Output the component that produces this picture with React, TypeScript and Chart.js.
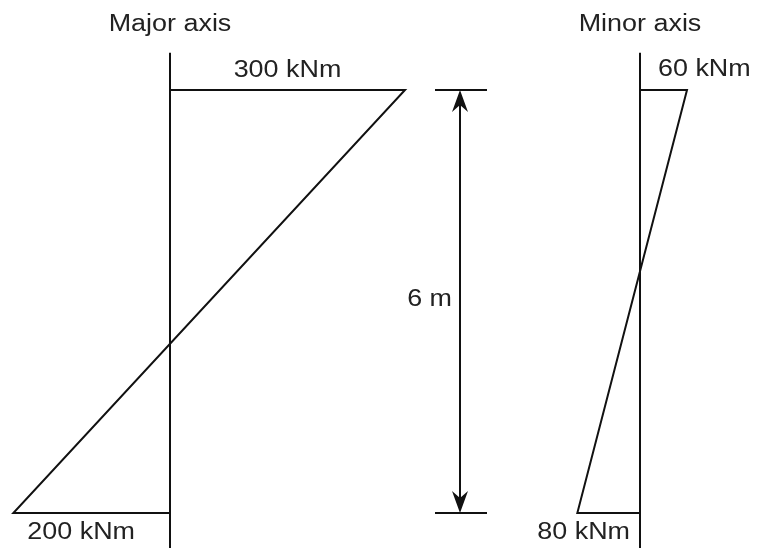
import { useEffect, useRef } from "react";
import { Chart, registerables } from "chart.js";

Chart.register(...registerables);

// ---- data ----
const LENGTH_M = 6;
const POSITIONS = [0, LENGTH_M]; // top end, bottom end of member (m)
const MAJOR_MOMENTS = [300, -200]; // kNm at top / bottom
const MINOR_MOMENTS = [60, -80];
const MAJOR_LABELS = ["300 kNm", "200 kNm"];
const MINOR_LABELS = ["60 kNm", "80 kNm"];
const TITLES = ["Major axis", "Minor axis"];
const DIM_LABEL = "6 m";

// ---- layout ----
const W = 757;
const H = 548;
const PX_PER_KNM = 0.7833;
const PX_PER_M = 70.5;
const TOP_PX = 90;
const MAJOR_BASE_PX = 170;
const MINOR_BASE_PX = 640;
const DIM_PX = 460;
const BASE_EXT_TOP = 0.53; // m above member top

const Y_MIN = -TOP_PX / PX_PER_M;
const Y_MAX = (H - TOP_PX) / PX_PER_M;

const FONT = '23px "Liberation Sans", Arial, sans-serif';
const SX = 1.17;

function diagram(m: number[]) {
  return [
    { x: 0, y: POSITIONS[0] },
    { x: m[0], y: POSITIONS[0] },
    { x: m[1], y: POSITIONS[1] },
    { x: 0, y: POSITIONS[1] },
  ];
}
function baseline() {
  return [
    { x: 0, y: POSITIONS[0] - BASE_EXT_TOP },
    { x: 0, y: Y_MAX + 1 },
  ];
}

const annotations = {
  id: "annotations",
  afterDatasetsDraw(chart: any) {
    const ctx = chart.ctx as CanvasRenderingContext2D;
    const xa = chart.scales.xMajor;
    const xb = chart.scales.xMinor;
    const y = chart.scales.y;
    const yTop = y.getPixelForValue(POSITIONS[0]);
    const yBot = y.getPixelForValue(POSITIONS[1]);
    const yMid = y.getPixelForValue(LENGTH_M / 2);

    const text = (s: string, x: number, yy: number, align: "left" | "right" | "center") => {
      ctx.save();
      ctx.font = FONT;
      ctx.fillStyle = "#222";
      ctx.textBaseline = "alphabetic";
      const w = ctx.measureText(s).width * SX;
      let left = x;
      if (align === "center") left = x - w / 2;
      if (align === "right") left = x - w;
      ctx.translate(left, yy);
      ctx.scale(SX, 1);
      ctx.fillText(s, 0, 0);
      ctx.restore();
    };

    const a0 = xa.getPixelForValue(0);
    const b0 = xb.getPixelForValue(0);
    text(TITLES[0], a0, 31, "center");
    text(TITLES[1], b0, 31, "center");
    text(MAJOR_LABELS[0], xa.getPixelForValue(MAJOR_MOMENTS[0] / 2), yTop - 13, "center");
    text(MAJOR_LABELS[1], xa.getPixelForValue(MAJOR_MOMENTS[1]) + 14, yBot + 26, "left");
    text(MINOR_LABELS[0], b0 + 18, yTop - 14, "left");
    text(MINOR_LABELS[1], b0 - 10, yBot + 26, "right");
    text(DIM_LABEL, DIM_PX - 8, yMid + 4, "right");

    // dimension line
    ctx.save();
    ctx.strokeStyle = "#111";
    ctx.fillStyle = "#111";
    ctx.lineWidth = 2;
    ctx.beginPath();
    ctx.moveTo(DIM_PX, yTop + 4);
    ctx.lineTo(DIM_PX, yBot - 4);
    ctx.moveTo(DIM_PX - 25, yTop);
    ctx.lineTo(DIM_PX + 27, yTop);
    ctx.moveTo(DIM_PX - 25, yBot);
    ctx.lineTo(DIM_PX + 27, yBot);
    ctx.stroke();
    const arrow = (tipY: number, dir: number) => {
      ctx.beginPath();
      ctx.moveTo(DIM_PX, tipY);
      ctx.lineTo(DIM_PX - 8, tipY + dir * 22);
      ctx.lineTo(DIM_PX, tipY + dir * 15);
      ctx.lineTo(DIM_PX + 8, tipY + dir * 22);
      ctx.closePath();
      ctx.fill();
    };
    arrow(yTop, 1);
    arrow(yBot, -1);
    ctx.restore();
  },
};

export default function App() {
  const ref = useRef<HTMLCanvasElement | null>(null);
  useEffect(() => {
    if (!ref.current) return;
    const line = { showLine: true, pointRadius: 0, borderColor: "#111", borderWidth: 2, fill: false, tension: 0 };
    const chart = new Chart(ref.current, {
      type: "scatter",
      data: {
        datasets: [
          { ...line, data: diagram(MAJOR_MOMENTS), xAxisID: "xMajor", yAxisID: "y" },
          { ...line, data: baseline(), xAxisID: "xMajor", yAxisID: "y" },
          { ...line, data: diagram(MINOR_MOMENTS), xAxisID: "xMinor", yAxisID: "y" },
          { ...line, data: baseline(), xAxisID: "xMinor", yAxisID: "y" },
        ] as any,
      },
      options: {
        animation: false,
        responsive: true,
        maintainAspectRatio: false,
        layout: { padding: 0 },
        plugins: { legend: { display: false }, tooltip: { enabled: false } },
        scales: {
          xMajor: {
            type: "linear",
            display: false,
            min: -MAJOR_BASE_PX / PX_PER_KNM,
            max: (W - MAJOR_BASE_PX) / PX_PER_KNM,
          },
          xMinor: {
            type: "linear",
            display: false,
            min: -MINOR_BASE_PX / PX_PER_KNM,
            max: (W - MINOR_BASE_PX) / PX_PER_KNM,
          },
          y: { type: "linear", display: false, reverse: true, min: Y_MIN, max: Y_MAX },
        },
      },
      plugins: [annotations],
    });
    return () => chart.destroy();
  }, []);
  return (
    <div style={{ position: "fixed", left: 0, top: 0, width: W, height: H, background: "#fff" }}>
      <canvas ref={ref} />
    </div>
  );
}
